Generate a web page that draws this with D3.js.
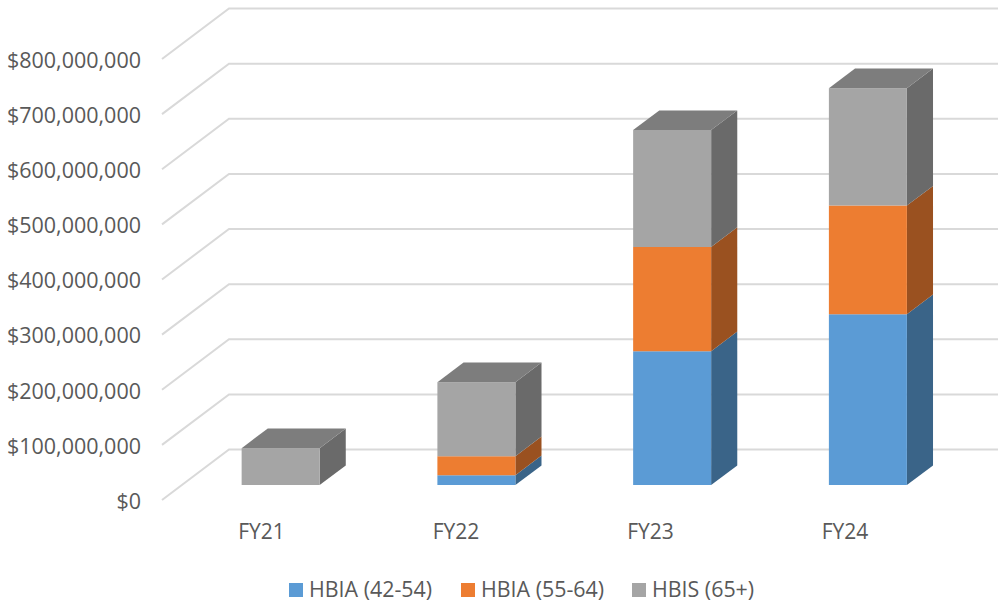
<!DOCTYPE html>
<html>
<head>
<meta charset="utf-8">
<style>
  html, body { margin: 0; padding: 0; background: #fff; }
  svg { display: block; }
  text { font-family: "Open Sans", sans-serif; fill: #595959; }
</style>
<script src="https://cdn.jsdelivr.net/npm/d3@7"></script>
</head>
<body>
<svg id="chart" width="998" height="603"></svg>
<script>
// Funding per fiscal year, stacked by programme and age group
const categories = ["FY21", "FY22", "FY23", "FY24"];
const seriesNames = ["HBIA (42-54)", "HBIA (55-64)", "HBIS (65+)"];
const hbia4254 = [0, 18000000, 243000000, 310000000];
const hbia5564 = [0, 34500000, 189000000, 197000000];
const hbis65 = [67000000, 134000000, 212000000, 213000000];
const valueTicks = [0, 100000000, 200000000, 300000000, 400000000, 500000000, 600000000, 700000000, 800000000];

const frontColors = ["#5b9bd5", "#ed7d31", "#a5a5a5"];
const sideColors = ["#3a6488", "#9a5120", "#6a6a6a"];
const topColors = ["#45759f", "#b45f25", "#7d7d7d"];

const svg = d3.select("#chart");

// Oblique projection: a floor depth of 0..1 shifts a point up and to the right
const x = d3.scaleBand().domain(categories).range([163, 946]);
const labelX = d3.scalePoint().domain(categories).range([261.5, 845]);
const y = d3.scaleLinear().domain([0, 800000000]).range([500, 59]);
const depth = d3.scaleLinear().domain([0, 1]).range([0, 67]);
const rise = d3.scaleLinear().domain([0, 1]).range([0, -50.5]);

const project = (px, value, d) => [px + depth(d), y(value) + rise(d)];
const poly = pts => d3.line()(pts) + "Z";

// Wall gridlines: floor diagonal, then across the back wall to the page edge
const gridLeft = 162, gridRight = 998;
svg.append("g").selectAll("path").data(valueTicks).join("path")
  .attr("d", v => d3.line()([project(gridLeft, v, 0), project(gridLeft, v, 1), [gridRight, project(0, v, 1)[1]]]))
  .attr("fill", "none").attr("stroke", "#d9d9d9").attr("stroke-width", 2);

// Value axis labels
svg.append("g").selectAll("text").data(valueTicks).join("text")
  .attr("x", 141).attr("y", v => y(v)).attr("dy", "0.41em")
  .attr("text-anchor", "end").attr("font-size", 21.5)
  .text(d3.format("$,"));

// Category labels
svg.append("g").selectAll("text").data(categories).join("text")
  .attr("x", c => labelX(c)).attr("y", 539)
  .attr("text-anchor", "middle").attr("font-size", 21)
  .text(c => c);

// Stacked boxes
const rows = categories.map((c, i) => ({ cat: c, s0: hbia4254[i], s1: hbia5564[i], s2: hbis65[i] }));
const stacked = d3.stack().keys(["s0", "s1", "s2"])(rows);
const barWidth = 78;
const nearDepth = 0.295, farDepth = 0.685;

const boxes = svg.append("g");
categories.forEach((c, i) => {
  const left = x(c) + (x.bandwidth() - barWidth) / 2;
  const right = left + barWidth;
  stacked.forEach((layer, k) => {
    const [v0, v1] = layer[i];
    if (v1 <= v0) return;
    const g = boxes.append("g");
    // right side
    g.append("path").attr("fill", sideColors[k]).attr("d", poly([
      project(right, v0, nearDepth), project(right, v0, farDepth),
      project(right, v1, farDepth), project(right, v1, nearDepth)]));
    // front
    g.append("path").attr("fill", frontColors[k]).attr("d", poly([
      project(left, v0, nearDepth), project(right, v0, nearDepth),
      project(right, v1, nearDepth), project(left, v1, nearDepth)]));
    // lid on the uppermost segment
    if (k === stacked.length - 1) {
      g.append("path").attr("fill", topColors[k]).attr("d", poly([
        project(left, v1, nearDepth), project(right, v1, nearDepth),
        project(right, v1, farDepth), project(left, v1, farDepth)]));
    }
  });
});

// Legend
const legendX = [289, 461, 632];
const legend = svg.append("g").selectAll("g").data(seriesNames).join("g")
  .attr("transform", (d, i) => `translate(${legendX[i]},583)`);
legend.append("rect").attr("width", 14).attr("height", 14).attr("fill", (d, i) => frontColors[i]);
legend.append("text").attr("x", 20).attr("y", 14).attr("font-size", 21.4).text(d => d);
</script>
</body>
</html>
